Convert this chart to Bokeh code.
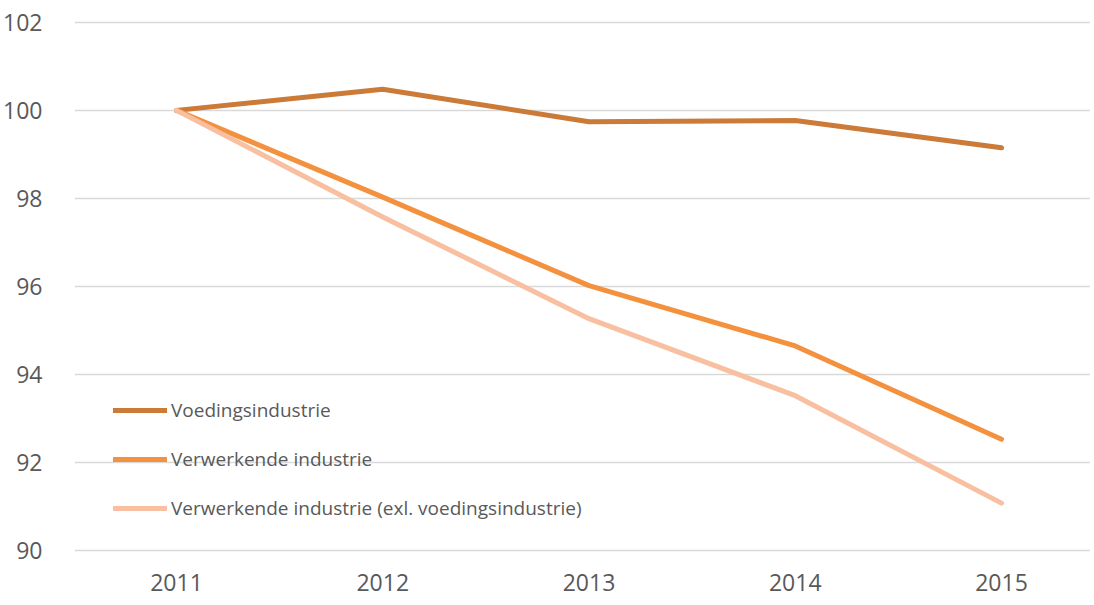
from bokeh.plotting import figure
from bokeh.models import Legend, LegendItem, FixedTicker, Range1d
from bokeh.embed import file_html
from bokeh.resources import INLINE

years = [2011, 2012, 2013, 2014, 2015]
voeding = [100.0, 100.48, 99.74, 99.77, 99.15]
verwerkend = [100.0, 98.03, 96.02, 94.65, 92.53]
verwerkend_excl = [100.0, 97.58, 95.27, 93.52, 91.08]
y_ticks = [90, 92, 94, 96, 98, 100, 102]
names = ["Voedingsindustrie", "Verwerkende industrie",
         "Verwerkende industrie (exl. voedingsindustrie)"]
colors = ["#CB7A37", "#F4913E", "#F8BFA1"]

p = figure(width=1090, height=600, output_backend="svg", toolbar_location=None,
           x_range=Range1d(2010.5055, 2015.4315), y_range=Range1d(89.8, 102.2),
           min_border_left=74, min_border_right=0, min_border_top=13, min_border_bottom=41)
p.outline_line_color = None
p.background_fill_color = "white"
p.border_fill_color = "white"

renderers = []
for ys, c in zip([voeding, verwerkend, verwerkend_excl], colors):
    r = p.line(years, ys, line_color=c, line_width=5, line_cap="round", line_join="round")
    renderers.append(r)

p.xgrid.grid_line_color = None
p.ygrid.grid_line_color = "#D9D9D9"
p.ygrid.grid_line_width = 1.3
p.yaxis.ticker = FixedTicker(ticks=y_ticks)
p.xaxis.ticker = FixedTicker(ticks=years)
for ax in (p.xaxis, p.yaxis):
    ax.axis_line_color = None
    ax.major_tick_line_color = None
    ax.minor_tick_line_color = None
    ax.major_label_text_font = "Open Sans"
    ax.major_label_text_font_size = "23px"
    ax.major_label_text_color = "#595959"
p.yaxis.major_label_standoff = 26
p.xaxis.major_label_standoff = 8

legend = Legend(items=[LegendItem(label=n, renderers=[r]) for n, r in zip(names, renderers)],
                location=(39, 36), padding=0, margin=0, spacing=19,
                glyph_width=54, glyph_height=30, label_height=30, label_standoff=4,
                label_text_font="Open Sans", label_text_font_size="19px",
                label_text_color="#595959", background_fill_alpha=0,
                border_line_color=None)
p.add_layout(legend)

open("out.html", "w").write(file_html(p, INLINE))
